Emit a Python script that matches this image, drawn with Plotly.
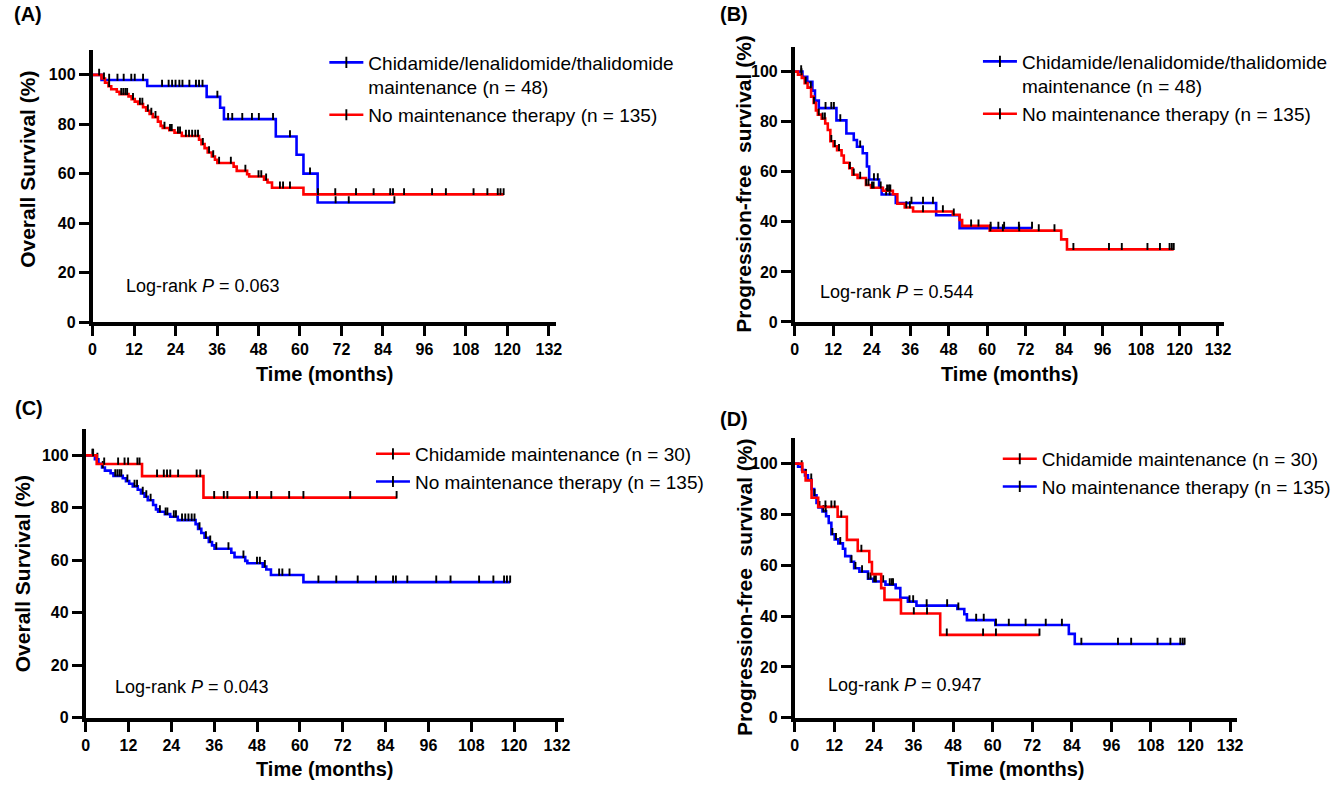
import plotly.graph_objects as go

W, H = 1341, 788

# ---------------- data (months, survival %) ----------------
# Overall survival, Chidamide/lenalidomide/thalidomide maintenance (n=48)
os_combo_t = [0, 2.6, 15.8, 33.0, 36.9, 38.0, 53.0, 59.0, 61.0, 65.1]
os_combo_s = [100, 97.9, 95.5, 91.1, 86.7, 82.1, 75.1, 67.7, 60.1, 48.4]
os_combo_end = 87.3
os_combo_cens = [4.8, 7.2, 9.0, 11.2, 12.2, 14.6, 20.1, 22.0, 23.0, 24.0, 25.1, 26.0, 28.0,
                 29.9, 30.8, 31.8, 36.1, 39.2, 40.4, 43.3, 46.1, 48.1, 52.2, 57.1, 62.9,
                 70.3, 74.1, 87.3]

# Overall survival, no maintenance therapy (n=135)
os_none_t = [0, 2.6, 3.6, 4.6, 5.4, 7.0, 7.8, 10.4, 11.3, 12.2, 13.2, 14.6, 15.5, 16.5, 17.4,
             18.9, 19.7, 20.3, 22.2, 23.7, 25.8, 30.8, 31.5, 32.4, 33.3, 34.5, 35.4, 36.1,
             40.8, 41.7, 44.7, 45.3, 49.6, 50.6, 51.9, 61.0]
os_none_s = [100, 98.5, 96.8, 95.4, 94.2, 93.2, 92.2, 91.3, 90.2, 89.2, 88.2, 86.9, 85.5, 84.2,
             82.9, 81.1, 79.4, 78.5, 77.6, 76.6, 75.3, 73.8, 72.0, 70.4, 68.6, 67.0, 65.7,
             64.4, 62.9, 61.2, 59.8, 58.9, 57.6, 56.5, 54.4, 51.7]
os_none_end = 118.9
os_none_cens = [1.9, 3.3, 4.8, 8.3, 8.9, 9.5, 10.0, 11.7, 13.7, 14.4, 16.0, 17.0, 18.2, 20.8,
                22.4, 22.9, 24.7, 25.3, 27.0, 27.9, 28.8, 29.7, 30.5, 31.9, 33.7, 34.9, 36.6,
                40.0, 44.2, 48.0, 48.8, 50.2, 54.2, 55.1, 57.1, 65.2, 70.2, 76.2, 81.3, 86.1,
                86.9, 90.1, 98.2, 102.2, 110.2, 114.2, 117.2, 118.0, 118.9]

# Progression-free survival, Chidamide/lenalidomide/thalidomide maintenance (n=48)
pfs_combo_t = [0, 2.4, 3.9, 5.5, 6.3, 7.5, 13.0, 16.1, 18.4, 19.4, 21.2, 22.5, 23.2, 26.3,
               27.1, 31.5, 44.1, 51.4]
pfs_combo_s = [100, 97.9, 95.9, 92.4, 88.4, 85.4, 80.5, 75.3, 72.7, 70.0, 67.4, 62.1, 56.9,
               53.6, 50.9, 47.5, 42.6, 37.5]
pfs_combo_end = 74.0
pfs_combo_cens = [2.0, 9.6, 11.4, 12.2, 14.2, 20.4, 24.7, 25.9, 28.5, 29.6, 36.4, 40.0, 43.1,
                  61.1, 63.5, 65.3, 69.9, 74.0]

# Progression-free survival, no maintenance therapy (n=135)
pfs_none_t = [0, 1.0, 2.2, 3.1, 4.0, 5.1, 5.9, 6.6, 7.2, 8.4, 9.5, 10.3, 11.1, 12.1, 13.2,
              14.6, 15.3, 17.0, 18.0, 19.6, 22.2, 23.8, 27.5, 30.6, 32.0, 34.3, 36.9, 49.3,
              51.4, 52.2, 60.8, 83.1, 84.9]
pfs_none_s = [100, 98.8, 97.5, 95.4, 93.6, 90.0, 87.5, 84.5, 82.8, 81.2, 79.3, 76.7, 72.2,
              70.2, 68.6, 66.5, 63.6, 61.4, 58.8, 57.5, 54.7, 53.6, 52.4, 51.0, 47.2, 45.7,
              44.1, 42.8, 40.7, 38.4, 36.5, 33.0, 29.0]
pfs_none_end = 118.2
pfs_none_cens = [2.1, 3.4, 5.0, 6.0, 7.5, 8.7, 9.4, 11.4, 12.5, 13.8, 17.2, 18.4, 20.4, 22.3,
                 23.0, 24.1, 24.6, 26.8, 28.8, 29.4, 29.8, 34.8, 35.9, 40.0, 46.2, 49.6, 55.0,
                 57.3, 61.0, 64.9, 70.0, 76.1, 81.0, 86.9, 98.0, 102.0, 110.0, 113.9, 116.9,
                 117.6, 118.2]

# Overall survival, Chidamide maintenance (n=30)
os_chid_t = [0, 3.1, 15.8, 33.0]
os_chid_s = [100, 96.7, 92.1, 83.9]
os_chid_end = 87.1
os_chid_cens = [2.1, 5.2, 9.1, 10.9, 11.9, 14.5, 15.1, 20.0, 21.9, 22.8, 23.7, 25.9, 31.1,
                32.1, 36.0, 38.7, 39.7, 46.0, 48.0, 52.0, 57.0, 61.0, 74.1, 87.1]

# Progression-free survival, Chidamide maintenance (n=30)
pfs_chid_t = [0, 2.3, 3.3, 5.1, 7.1, 13.0, 15.8, 19.1, 22.6, 23.4, 26.2, 27.2, 32.2, 44.1]
pfs_chid_s = [100, 96.7, 93.4, 86.6, 83.0, 79.1, 70.0, 65.6, 61.3, 56.5, 51.0, 46.4, 41.0, 32.6]
pfs_chid_end = 74.2
pfs_chid_cens = [9.3, 11.1, 12.1, 14.1, 20.2, 36.1, 40.1, 46.1, 57.1, 61.0, 74.2]

x_ticks = list(range(0, 133, 12))
y_ticks = list(range(0, 101, 20))

label_combo = "Chidamide/lenalidomide/thalidomide<br>maintenance (n = 48)"
label_none = "No maintenance therapy (n = 135)"
label_chid = "Chidamide maintenance (n = 30)"
p_values = ["0.063", "0.544", "0.043", "0.947"]

BLUE = "#0000FF"
RED = "#FF0000"
FONT = "Arial, Liberation Sans, Helvetica, sans-serif"

# ---------------- figure ----------------
fig = go.Figure()


def surv_at(ts, ss, t):
    v = ss[0]
    for ti, si in zip(ts, ss):
        if ti <= t:
            v = si
    return v


def add_curve(ts, ss, end, cens, color, xa, ya, name, legend, rank):
    xs = list(ts) + [end]
    ys = list(ss) + [ss[-1]]
    fig.add_trace(go.Scatter(x=xs, y=ys, mode="lines", line=dict(color=color, width=2.6, shape="hv"),
                             xaxis=xa, yaxis=ya, showlegend=False, hoverinfo="skip"))
    cx, cy = [], []
    for c in cens:
        s = surv_at(ts, ss, c)
        cx += [c, c, None]
        cy += [s - 0.3, s + 2.5, None]
    fig.add_trace(go.Scatter(x=cx, y=cy, mode="lines", line=dict(color="black", width=1.9),
                             xaxis=xa, yaxis=ya, showlegend=False, hoverinfo="skip"))
    # legend entry
    fig.add_trace(go.Scatter(x=[None], y=[None], mode="lines+markers", name=name,
                             line=dict(color=color, width=2.6),
                             marker=dict(symbol="line-ns", size=8, line=dict(color="black", width=1.9)),
                             xaxis=xa, yaxis=ya, legend=legend, legendrank=rank, legendgroup=name + legend))


# panel A
add_curve(os_combo_t, os_combo_s, os_combo_end, os_combo_cens, BLUE, "x", "y", label_combo, "legend", 1)
add_curve(os_none_t, os_none_s, os_none_end, os_none_cens, RED, "x", "y", label_none, "legend", 2)
# panel B
add_curve(pfs_combo_t, pfs_combo_s, pfs_combo_end, pfs_combo_cens, BLUE, "x2", "y2", label_combo, "legend2", 1)
add_curve(pfs_none_t, pfs_none_s, pfs_none_end, pfs_none_cens, RED, "x2", "y2", label_none, "legend2", 2)
# panel C
add_curve(os_none_t, os_none_s, os_none_end, os_none_cens, BLUE, "x3", "y3", label_none, "legend3", 2)
add_curve(os_chid_t, os_chid_s, os_chid_end, os_chid_cens, RED, "x3", "y3", label_chid, "legend3", 1)
# panel D
add_curve(pfs_none_t, pfs_none_s, pfs_none_end, pfs_none_cens, BLUE, "x4", "y4", label_none, "legend4", 2)
add_curve(pfs_chid_t, pfs_chid_s, pfs_chid_end, pfs_chid_cens, RED, "x4", "y4", label_chid, "legend4", 1)


def px_x(X):
    return X / W


def px_y(Y):
    return 1 - Y / H


# pixel geometry of each panel: (x at 0, x at 134, y at 0, y at 110)
panels = {
    "1": (89.3, 556.4, 326.0, 50.7),
    "2": (797.3, 1230.5, 325.7, 47.1),
    "3": (82.3, 564.7, 726.0, 434.1),
    "4": (797.3, 1242.9, 726.0, 443.3),
}

tickfont = dict(family=FONT, size=16, color="black", weight="bold")
for k, (xl, xr, yb, yt) in panels.items():
    sfx = "" if k == "1" else k
    fig.layout["xaxis" + sfx] = dict(
        domain=[px_x(xl), px_x(xr)], anchor="y" + sfx, range=[0, 134], tickvals=x_ticks,
        ticks="outside", ticklen=10, tickwidth=3.2, tickcolor="black", showline=True,
        linewidth=3.6, linecolor="black", showgrid=False, zeroline=False, tickfont=tickfont,
        fixedrange=True)
    fig.layout["yaxis" + sfx] = dict(
        domain=[px_y(yb), px_y(yt)], anchor="x" + sfx, range=[0, 110], tickvals=y_ticks,
        ticks="outside", ticklen=10, tickwidth=3.2, tickcolor="black", showline=True,
        linewidth=3.6, linecolor="black", showgrid=False, zeroline=False, tickfont=tickfont,
        fixedrange=True)

legend_font = dict(family=FONT, size=19, color="black")
legend_pos = {
    "legend": (323, 44, 13),
    "legend2": (982, 43, 15),
    "legend3": (370, 440, 15),
    "legend4": (1002, 445, 10),
}
for lg, (lx, ly, gap) in legend_pos.items():
    fig.layout[lg] = dict(x=px_x(lx), y=px_y(ly), xanchor="left", yanchor="top",
                          bgcolor="rgba(0,0,0,0)", font=legend_font, valign="top",
                          tracegroupgap=gap, traceorder="normal", itemwidth=34)

annots = []
xtitle_font = dict(family=FONT, size=20, color="black")
ytitle_font = dict(family=FONT, size=21, color="black")
label_font = dict(family=FONT, size=20, color="black")
plain_font = dict(family=FONT, size=18, color="black")


def ann(text, X, Y, font, angle=0, xanchor="center"):
    annots.append(dict(text=text, x=px_x(X), y=px_y(Y), xref="paper", yref="paper",
                       showarrow=False, font=font, textangle=angle, xanchor=xanchor,
                       yanchor="middle"))


# panel labels
ann("<b>(A)</b>", 8, 14, label_font, xanchor="left")
ann("<b>(B)</b>", 720, 14, label_font, xanchor="left")
ann("<b>(C)</b>", 9, 413, label_font, xanchor="left")
ann("<b>(D)</b>", 720, 424, label_font, xanchor="left")
# axis titles
ann("<b>Time (months)</b>", 323, 378, xtitle_font)
ann("<b>Time (months)</b>", 1014, 378, xtitle_font)
ann("<b>Time (months)</b>", 323, 778, xtitle_font)
ann("<b>Time (months)</b>", 1020, 778, xtitle_font)
ann("<b>Overall Survival (%)</b>", 23, 171, ytitle_font, angle=-90)
ann("<b>Progression-free\u00a0 survival (%)</b>", 746, 186, ytitle_font, angle=-90)
ann("<b>Overall Survival (%)</b>", 19, 580, ytitle_font, angle=-90)
ann("<b>Progression-free\u00a0 survival (%)</b>", 746, 594, ytitle_font, angle=-90)
# log-rank texts
for (X, Y), p in zip([(121, 289), (821, 295), (110, 695), (829, 693)], p_values):
    ann("Log-rank <i>P</i> = " + p, X, Y, plain_font, xanchor="left")

fig.update_layout(
    width=W, height=H, margin=dict(l=0, r=0, t=0, b=0),
    paper_bgcolor="white", plot_bgcolor="white",
    annotations=annots, font=dict(family=FONT, color="black"),
)

fig.write_html("out.html", config={"displayModeBar": False},
               post_script="document.body.style.margin='0px';")
